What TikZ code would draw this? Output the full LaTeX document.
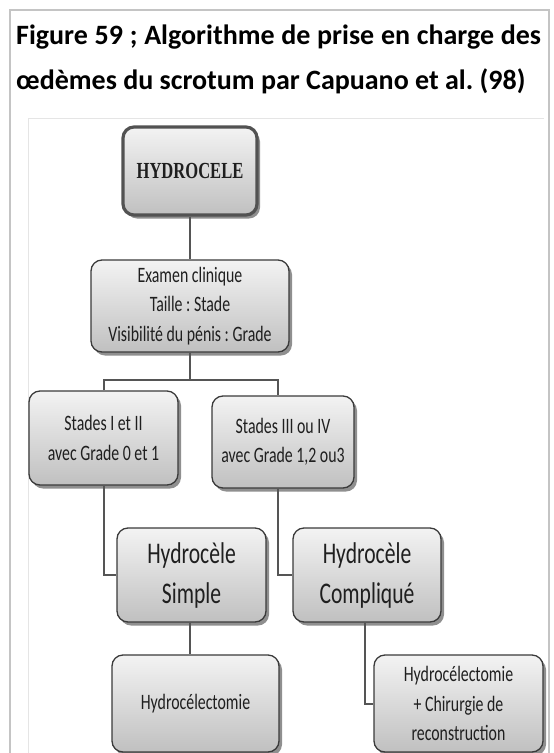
\documentclass[tikz,border=0pt]{standalone}
\usepackage{fontspec}
\setmainfont{Carlito}
\newfontfamily\boxfont{Carlito}[FakeStretch=0.72]
\newfontfamily\hydfont{Liberation Serif}[FakeStretch=0.72]
\usetikzlibrary{shadows}
\frenchspacing
\definecolor{framec}{HTML}{C4C4C4}
\definecolor{edgec}{HTML}{3A3A3A}
\definecolor{wirec}{HTML}{555555}
\definecolor{boxtop}{HTML}{F3F3F3}
\definecolor{boxbot}{HTML}{C0C0C0}
\tikzset{
  flowbox/.style={draw=edgec, line width=1.3pt, rounded corners=11pt,
    top color=boxtop, bottom color=boxbot,
    drop shadow={shadow xshift=3pt, shadow yshift=-3.5pt, opacity=0.55, fill=black!80},
    align=center, inner sep=0pt, text=black!88,
    font=\boxfont\fontsize{22}{29.5}\selectfont},
  bigtext/.style={font=\boxfont\fontsize{30}{40}\selectfont},
  wire/.style={draw=wirec, line width=2pt},
  titletext/.style={anchor=base west, inner sep=0pt, font=\bfseries\fontsize{28}{30}\selectfont}
}
\begin{document}
\begin{tikzpicture}[x=1pt,y=-1pt]
\useasboundingbox (0,0) rectangle (554,753);
% frame
\draw[framec, line width=2pt] (10,770) -- (10,10) -- (549,10) -- (549,770);
\draw[black!10, line width=0.8pt] (28,770) -- (28,118) -- (544,118);
% title
\node[titletext] (t1) at (16,44) {\makebox[525pt][s]{Figure 59 ; Algorithme de prise en charge des}};
\node[titletext] (t2) at (16,89) {œdèmes du scrotum par Capuano et al. (98)};
% boxes
\node[flowbox, line width=3.2pt, draw=black!68, minimum width=134pt, minimum height=88pt,
  font=\hydfont\bfseries\fontsize{23}{26}\selectfont] (hyd) at (190,171) {HYDROCELE};
\node[flowbox, minimum width=198pt, minimum height=92pt] (exam) at (190,306)
  {Examen clinique\\Taille : Stade\\Visibilité du pénis : Grade};
\node[flowbox, minimum width=149pt, minimum height=94pt] (st12) at (103.5,438)
  {Stades I et II\\avec Grade 0 et 1};
\node[flowbox, minimum width=142pt, minimum height=92pt] (st34) at (283,442)
  {Stades III ou IV\\avec Grade 1,2 ou3};
\node[flowbox, bigtext, minimum width=149pt, minimum height=94pt] (simple) at (191.5,575)
  {Hydrocèle\\Simple};
\node[flowbox, bigtext, minimum width=148pt, minimum height=94pt] (compl) at (367,575)
  {Hydrocèle\\Compliqué};
\node[flowbox, minimum width=167pt, minimum height=97pt] (hect) at (195.5,703.5)
  {Hydrocélectomie};
\node[flowbox, minimum width=169pt, minimum height=97pt] (hchir) at (458.5,703.5)
  {Hydrocélectomie\\+ Chirurgie de\\reconstruction};
% connectors
\coordinate (split) at (190,380);
\coordinate (b2) at (278,380);
\draw[wire] (hyd.south) -- (exam.north);
\draw[wire] (exam.south) -- (split);
\draw[wire] (st12.north) |- (split) -- (b2) -- (b2 |- st34.north);
\draw[wire] (st12.south) |- (simple.west);
\draw[wire] ([xshift=-5pt]st34.south) |- (compl.west);
\draw[wire] ([xshift=-1.5pt]simple.south) -- ([xshift=-1.5pt]simple.south |- hect.north);
\draw[wire] ([xshift=-2pt]compl.south) |- (hchir.west);
\end{tikzpicture}
\end{document}
